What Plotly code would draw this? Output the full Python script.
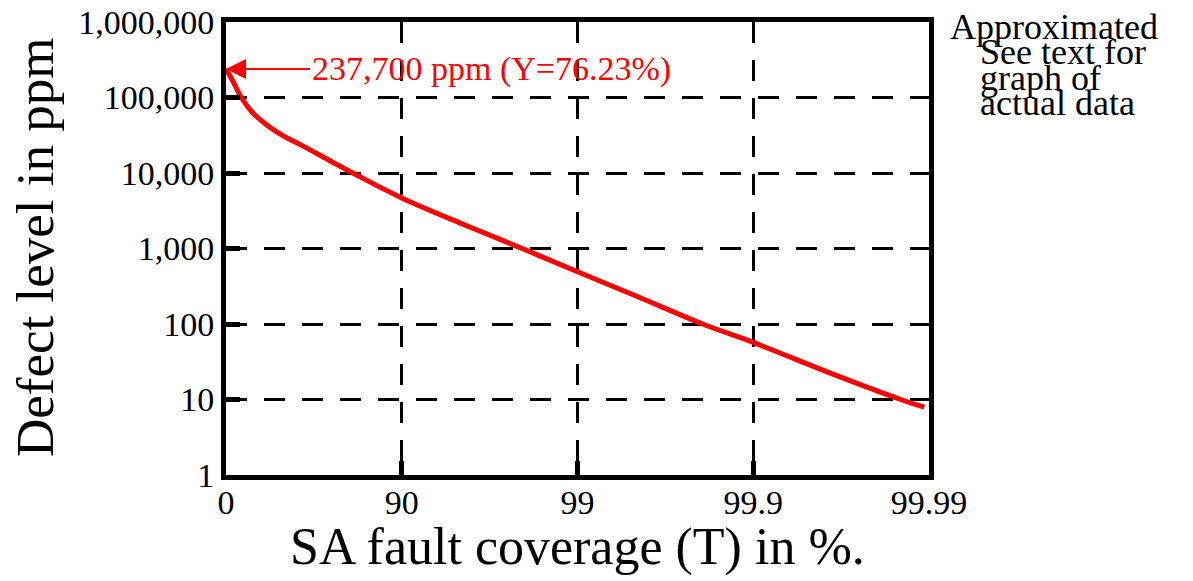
import math
import plotly.graph_objects as go

# Position along the x axis in "nines" of SA fault coverage (0 -> 0 %, 1 -> 90 %, 2 -> 99 %, ...)
coverage_pos = [0, 0.037, 0.087, 0.148, 0.232, 0.326, 0.426, 0.609, 0.721, 1.0,
                1.366, 1.685, 2.0, 2.347, 2.712, 3.0, 3.468, 3.839, 3.973]
defect_ppm = [237700, 168000, 100000, 64300, 43300, 31000, 23600, 13800, 10000, 4680,
              2020, 1000, 491, 228, 100, 57, 21, 10, 7.9]

x_tickvals = [0, 1, 2, 3, 4]
x_ticktext = ["0", "90", "99", "99.9", "99.99"]
y_tickvals = [1, 10, 100, 1000, 10000, 100000, 1000000]
y_ticktext = ["1", "10", "100", "1,000", "10,000", "100,000", "1,000,000"]

x_title = "SA fault coverage (T) in %."
y_title = "Defect level in ppm"
note_lines = ["Approximated", "See text for", "graph of", "actual data"]
start_label = "237,700 ppm (Y=76.23%)"
start_value = 237700

FONT = "Palatino Linotype, Book Antiqua, Palatino, Liberation Serif, serif"

fig = go.Figure()
fig.add_trace(go.Scatter(
    x=coverage_pos, y=defect_ppm, mode="lines",
    line=dict(color="#ff0000", width=5, shape="spline", smoothing=1.0),
    showlegend=False, hoverinfo="skip",
))

grid = dict(showgrid=True, gridcolor="black", gridwidth=2.5, griddash="21px,17px")
frame = dict(showline=True, linecolor="black", linewidth=5, mirror=True,
             ticks="inside", ticklen=14, tickwidth=5, tickcolor="black",
             zeroline=False, automargin=False, ticklabeloverflow="allow")

fig.update_xaxes(
    range=[0, 4], tickmode="array", tickvals=x_tickvals, ticktext=x_ticktext,
    tickfont=dict(family=FONT, size=34, color="black"), ticklabelstandoff=-7,
    **frame, **grid,
)
fig.update_yaxes(
    type="log", range=[0, 6], tickmode="array", tickvals=y_tickvals, ticktext=y_ticktext,
    tickfont=dict(family=FONT, size=34, color="black"),
    **frame, **grid,
)

fig.add_annotation(
    x=0, y=math.log10(start_value), xref="x", yref="y", text=start_label,
    showarrow=True, ax=84, ay=0, xanchor="left",
    arrowhead=2, arrowsize=2, arrowwidth=2, arrowcolor="#ff0000",
    font=dict(family=FONT, size=34, color="#ff0000"),
)

# axis titles
fig.add_annotation(x=0.5, y=-0.160, xref="paper", yref="paper", text=x_title,
                   showarrow=False, xanchor="center", yanchor="middle",
                   font=dict(family=FONT, size=52, color="black"))
fig.add_annotation(x=-0.2725, y=0.502, xref="paper", yref="paper", text=y_title,
                   showarrow=False, xanchor="center", yanchor="middle", textangle=-90,
                   font=dict(family=FONT, size=53, color="black"))

note_x = [1.027, 1.0697, 1.0697, 1.0697]
note_y = [0.9890, 0.9338, 0.8764, 0.8212]
for txt, nx, ny in zip(note_lines, note_x, note_y):
    fig.add_annotation(
        x=nx, y=ny, xref="paper", yref="paper", text=txt, showarrow=False,
        xanchor="left", yanchor="middle",
        font=dict(family=FONT, size=36, color="black"),
    )

fig.update_layout(
    width=1185, height=573, autosize=False,
    margin=dict(l=218, r=264, t=14, b=106, pad=0),
    paper_bgcolor="white", plot_bgcolor="white",
)

fig.write_html("out.html")
